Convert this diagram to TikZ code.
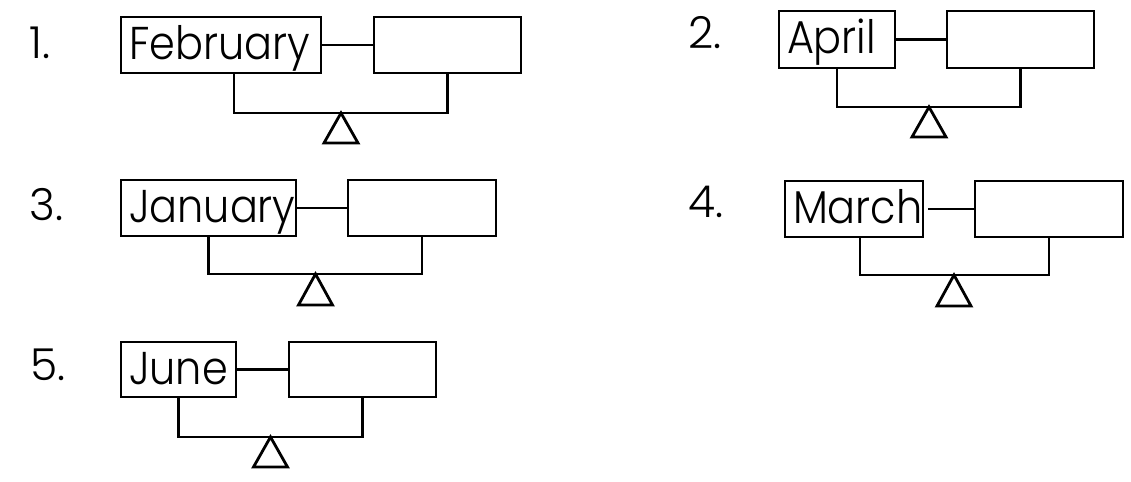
\documentclass[tikz,border=0pt]{standalone}
\usepackage{fontspec}
\usepackage{tikz}
\usetikzlibrary{positioning,calc}
\newfontfamily\monthfont{Poppins Light}[FakeStretch=0.9]
\newfontfamily\numfont{Poppins Light}

\tikzset{
  wordbox/.style={draw, line width=1.4pt, inner xsep=4pt, inner ysep=0pt,
    minimum height=28pt, text height=17.5pt, text depth=3pt, align=left,
    font=\monthfont\fontsize{23}{23}\selectfont},
  blankbox/.style={draw, line width=1.4pt, minimum height=28pt, inner sep=0pt},
  number/.style={anchor=base west, inner sep=0pt,
    font=\numfont\fontsize{22}{22}\selectfont},
  link/.style={line width=1.4pt},
}

\begin{document}
\begin{tikzpicture}[x=0.5pt, y=-0.5pt]
    \useasboundingbox (0,0) rectangle (1131,482);

    % 1. February
    \node[number] (n1) at (29,58) {1.};
    \node[wordbox, text width=92pt] (w1) at (221,45) {February};
    \node[blankbox, minimum width=73.5pt] (b1) at (447.5,45) {};
    \draw[link] (w1.east) -- (b1.west);
    \coordinate (k1) at (341,113);
    \draw[link] ([xshift=6.5pt]w1.south) |- (k1) -| (b1.south);
    \draw[link] (k1) -- ++(-17,30) -- ++(34,0) -- cycle;

    % 2. April
    \node[number] (n2) at (688,48) {2.};
    \node[wordbox, text width=50pt, minimum height=28.5pt] (w2) at (837,39.5) {April};
    \node[blankbox, minimum width=73.5pt, minimum height=28.5pt] (b2) at (1020.5,39.5) {};
    \draw[link] (w2.east) -- (b2.west);
    \coordinate (k2) at (929,107);
    \draw[link] (w2.south) |- (k2) -| (b2.south);
    \draw[link] (k2) -- ++(-17,30) -- ++(34,0) -- cycle;

    % 3. January
    \node[number] (n3) at (29,220) {3.};
    \node[wordbox, text width=79.5pt] (w3) at (208.5,208) {January};
    \node[blankbox, minimum width=74pt] (b3) at (422,208) {};
    \draw[link] (w3.east) -- (b3.west);
    \coordinate (k3) at (315.5,274);
    \draw[link] (w3.south) |- (k3) -| (b3.south);
    \draw[link] (k3) -- ++(-17,31) -- ++(34,0) -- cycle;

    % 4. March
    \node[number] (n4) at (688,217) {4.};
    \node[wordbox, text width=61pt] (w4) at (854,209) {March};
    \node[blankbox, minimum width=74pt] (b4) at (1049,209) {};
    \draw[link, shorten <=2pt] (w4.east) -- (b4.west);
    \coordinate (k4) at (954,275);
    \draw[link] ([xshift=3pt]w4.south) |- (k4) -| (b4.south);
    \draw[link] (k4) -- ++(-17,31) -- ++(34,0) -- cycle;

    % 5. June
    \node[number] (n5) at (30,380) {5.};
    \node[wordbox, text width=49.5pt, minimum height=27.5pt] (w5) at (178.5,369.5) {June};
    \node[blankbox, minimum width=73.5pt, minimum height=27.5pt] (b5) at (362.5,369.5) {};
    \draw[link] (w5.east) -- (b5.west);
    \coordinate (k5) at (270.5,437);
    \draw[link] (w5.south) |- (k5) -| (b5.south);
    \draw[link] (k5) -- ++(-17,30) -- ++(34,0) -- cycle;
\end{tikzpicture}
\end{document}
